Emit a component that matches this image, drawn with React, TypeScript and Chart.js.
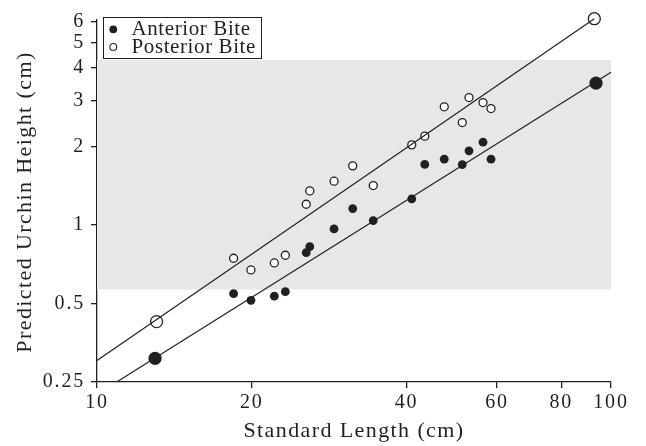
import React, { useEffect, useRef } from "react";
import { Chart, registerables } from "chart.js";

Chart.register(...registerables);

// ---- data ----
const standardLength = [18.44, 19.93, 22.13, 23.25, 25.53, 25.94, 28.92, 31.44, 34.47, 40.96, 43.42, 47.38, 51.36, 52.93, 56.36, 58.42];
const anteriorHeight = [0.545, 0.514, 0.533, 0.555, 0.783, 0.826, 0.965, 1.155, 1.039, 1.258, 1.706, 1.786, 1.703, 1.922, 2.075, 1.786];
const posteriorHeight = [0.745, 0.672, 0.715, 0.765, 1.2, 1.35, 1.471, 1.684, 1.415, 2.027, 2.189, 2.835, 2.468, 3.077, 2.944, 2.792];

const anteriorEndX = [12.97, 93.5];
const anteriorEndY = [0.308, 3.494];
const posteriorEndX = [13.06, 92.8];
const posteriorEndY = [0.426, 6.17];

const anteriorFitX = [10.92, 100];
const anteriorFitY = [0.25, 3.85];
const posteriorFitX = [10, 92.8];
const posteriorFitY = [0.302, 6.17];

const bandX = [10, 100];
const bandY = [0.565, 4.29];

const xTicks = [10, 20, 40, 60, 80, 100];
const yTicks = [0.25, 0.5, 1, 2, 3, 4, 5, 6];

const seriesLabels = ["Anterior Bite", "Posterior Bite"];
const xTitle = "Standard Length (cm)";
const yTitle = "Predicted Urchin Height (cm)";

// ---- styles ----
const INK = "#231f20";
const FONT = "'Liberation Serif', 'Times New Roman', serif";
const TICK_SPACING = "1.8px";

const pts = (xs: number[], ys: number[]) => xs.map((x, i) => ({ x, y: ys[i] }));

const bandPlugin = {
  id: "band",
  beforeDatasetsDraw(chart: any) {
    const { ctx, scales } = chart;
    const x0 = scales.x.getPixelForValue(bandX[0]);
    const x1 = scales.x.getPixelForValue(bandX[1]);
    const y0 = scales.y.getPixelForValue(bandY[1]);
    const y1 = scales.y.getPixelForValue(bandY[0]);
    ctx.save();
    ctx.fillStyle = "#e6e7e8";
    ctx.fillRect(x0, y0, x1 - x0, y1 - y0);
    ctx.restore();
  },
};

const spacingPlugin = {
  id: "spacing",
  beforeLayout(chart: any) {
    chart.ctx.letterSpacing = TICK_SPACING;
  },
  beforeDraw(chart: any) {
    chart.ctx.letterSpacing = TICK_SPACING;
  },
};

const decorPlugin = {
  id: "decor",
  afterDraw(chart: any) {
    const { ctx, chartArea } = chart;
    ctx.save();
    ctx.fillStyle = INK;
    // axis titles
    ctx.letterSpacing = "1.4px";
    ctx.font = `22px ${FONT}`;
    ctx.textAlign = "center";
    ctx.textBaseline = "alphabetic";
    ctx.fillText(xTitle, (chartArea.left + chartArea.right) / 2, 437);
    ctx.save();
    ctx.translate(31, (chartArea.top + chartArea.bottom) / 2 + 1);
    ctx.rotate(-Math.PI / 2);
    ctx.fillText(yTitle, 0, 0);
    ctx.restore();

    // legend
    const bx = chartArea.left + 6.5;
    const by = chartArea.top - 2.5;
    ctx.fillStyle = "#ffffff";
    ctx.fillRect(bx, by, 158, 41);
    ctx.strokeStyle = INK;
    ctx.lineWidth = 1;
    ctx.strokeRect(bx, by, 158, 41);
    ctx.font = `21px ${FONT}`;
    ctx.letterSpacing = "0.6px";
    ctx.textAlign = "left";
    for (let i = 0; i < seriesLabels.length; i++) {
      const cy = by + 11.8 + i * 17.6;
      ctx.beginPath();
      if (i === 0) {
        ctx.arc(bx + 9.8, cy, 3.9, 0, Math.PI * 2);
        ctx.fillStyle = INK;
        ctx.fill();
      } else {
        ctx.arc(bx + 9.8, cy, 3.4, 0, Math.PI * 2);
        ctx.fillStyle = "#ffffff";
        ctx.fill();
        ctx.lineWidth = 1.1;
        ctx.strokeStyle = INK;
        ctx.stroke();
      }
      ctx.fillStyle = INK;
      ctx.fillText(seriesLabels[i], bx + 28, cy + 6);
    }
    ctx.restore();
  },
};

export default function App() {
  const ref = useRef<HTMLCanvasElement | null>(null);

  useEffect(() => {
    if (!ref.current) return;
    const chart = new Chart(ref.current, {
      type: "scatter",
      data: {
        datasets: [
          {
            label: "Anterior fit",
            data: pts(anteriorFitX, anteriorFitY),
            showLine: true,
            borderColor: INK,
            borderWidth: 1.2,
            pointRadius: 0,
            clip: false,
          },
          {
            label: "Posterior fit",
            data: pts(posteriorFitX, posteriorFitY),
            showLine: true,
            borderColor: INK,
            borderWidth: 1.2,
            pointRadius: 0,
            clip: false,
          },
          {
            label: seriesLabels[0],
            data: pts(standardLength, anteriorHeight),
            pointRadius: 4.4,
            pointBackgroundColor: INK,
            pointBorderColor: INK,
            pointBorderWidth: 0,
            clip: false,
          },
          {
            label: seriesLabels[1],
            data: pts(standardLength, posteriorHeight),
            pointRadius: 4,
            pointBackgroundColor: "#ffffff",
            pointBorderColor: INK,
            pointBorderWidth: 1.3,
            clip: false,
          },
          {
            label: "Anterior ends",
            data: pts(anteriorEndX, anteriorEndY),
            pointRadius: 6.6,
            pointBackgroundColor: INK,
            pointBorderColor: INK,
            pointBorderWidth: 0,
            clip: false,
          },
          {
            label: "Posterior ends",
            data: pts(posteriorEndX, posteriorEndY),
            pointRadius: 6,
            pointBackgroundColor: "#ffffff",
            pointBorderColor: INK,
            pointBorderWidth: 1.3,
            clip: false,
          },
        ],
      },
      options: {
        responsive: false,
        animation: false,
        events: [],
        layout: { padding: { left: 0, top: 20, right: 35, bottom: 0 } },
        plugins: { legend: { display: false }, tooltip: { enabled: false } },
        scales: {
          x: {
            type: "logarithmic",
            min: 10,
            max: 100,
            afterBuildTicks: (s: any) => {
              s.ticks = xTicks.map((v) => ({ value: v }));
            },
            afterFit: (s: any) => {
              s.height = 64;
            },
            ticks: {
              autoSkip: false,
              maxRotation: 0,
              padding: 3,
              color: INK,
              font: { family: FONT, size: 20 },
              callback: (v: any) => String(v),
            },
            grid: { display: true, drawOnChartArea: false, drawTicks: true, tickLength: 6, color: INK, lineWidth: 1.3 },
            border: { display: true, color: INK, width: 1.3 },
          },
          y: {
            type: "logarithmic",
            min: 0.25,
            max: 6.1,
            afterBuildTicks: (s: any) => {
              s.ticks = yTicks.map((v) => ({ value: v }));
            },
            afterFit: (s: any) => {
              s.width = 97;
            },
            ticks: {
              autoSkip: false,
              padding: 6,
              color: INK,
              font: { family: FONT, size: 20 },
              callback: (v: any) => String(v),
            },
            grid: { display: true, drawOnChartArea: false, drawTicks: true, tickLength: 6, color: INK, lineWidth: 1.3 },
            border: { display: true, color: INK, width: 1.3 },
          },
        },
      },
      plugins: [spacingPlugin, bandPlugin, decorPlugin],
    } as any);
    return () => chart.destroy();
  }, []);

  return (
    <div style={{ position: "fixed", left: 0, top: 0, width: 646, height: 446, background: "#fff" }}>
      <canvas ref={ref} width={646} height={446} style={{ display: "block" }} />
    </div>
  );
}
